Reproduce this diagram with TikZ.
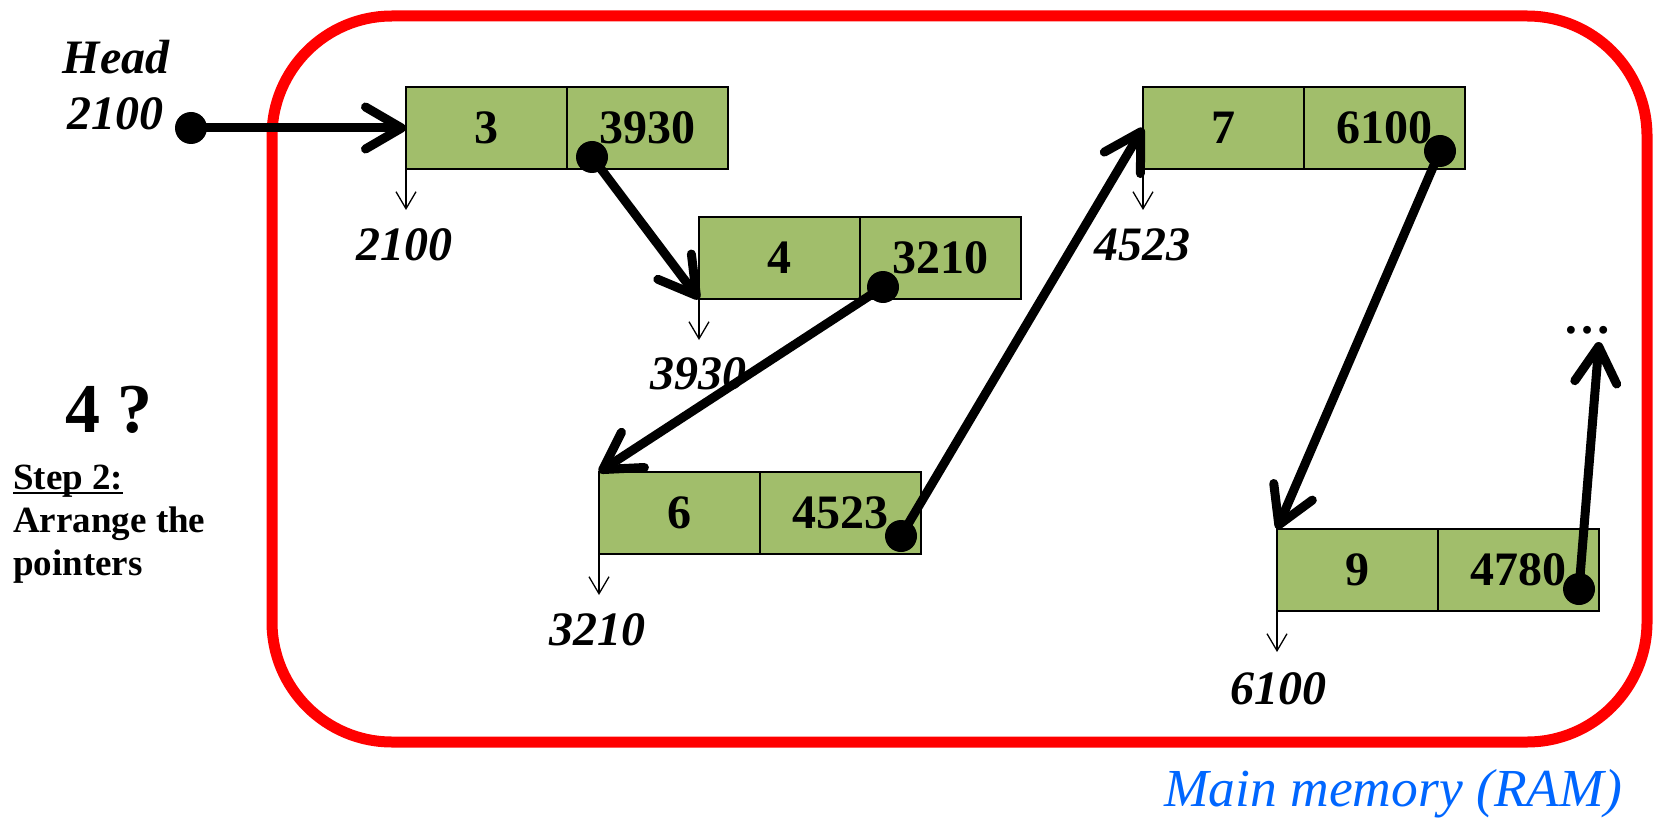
\documentclass[tikz,border=0pt]{standalone}
\usepackage{fontspec}
\setmainfont{Liberation Serif}
\usetikzlibrary{arrows.meta}
\definecolor{cellgreen}{RGB}{161,190,107}
\definecolor{ramblue}{RGB}{0,102,255}
\definecolor{memred}{RGB}{255,0,0}
\begin{document}
\begin{tikzpicture}[x=1pt,y=-1pt,
  cell/.style={draw=black, line width=1.5pt, fill=cellgreen, minimum width=161pt,
    minimum height=82pt, inner sep=0pt, outer sep=0pt,
    font=\fontsize{48}{56}\selectfont\bfseries},
  addr/.style={inner sep=0pt, font=\fontsize{48}{56}\selectfont\bfseries\itshape},
  dot/.style={circle, fill=black, minimum size=32pt, inner sep=0pt},
  link/.style={line width=9pt, line cap=round,
    -{Straight Barb[length=36pt,width=42pt,round]}},
  tick/.style={line width=1.3pt, -{Straight Barb[length=17pt,width=20pt]}},
  side/.style={inner sep=0pt, anchor=base west,
    font=\fontsize{37}{42}\selectfont\bfseries},
]
\useasboundingbox (0,0) rectangle (1653,818);

% main memory outline
\draw[memred, line width=11pt, rounded corners=120pt] (272,16) rectangle (1647,742);

% list cells: value | next address
\node[cell, anchor=north west] (v3) at (406,87) {3};
\node[cell, anchor=west] (p3) at (v3.east) {3930};
\node[cell, anchor=north west] (v4) at (699,217) {4};
\node[cell, anchor=west] (p4) at (v4.east) {3210};
\node[cell, anchor=north west] (v6) at (599,472) {6};
\node[cell, anchor=west] (p6) at (v6.east) {4523};
\node[cell, anchor=north west] (v7) at (1143,87) {7};
\node[cell, anchor=west] (p7) at (v7.east) {6100};
\node[cell, anchor=north west] (v9) at (1277,529) {9};
\node[cell, anchor=west] (p9) at (v9.east) {4780};

% address of each cell
\node[addr] (a3) at (404,245) {2100};
\node[addr] (a4) at (698,374) {3930};
\node[addr] (a6) at (597,630) {3210};
\node[addr] (a7) at (1142,245) {4523};
\node[addr] (a9) at (1278,689) {6100};
\draw[tick] (v3.south west) -- ++(0,41);
\draw[tick] (v4.south west) -- ++(0,41);
\draw[tick] (v6.south west) -- ++(0,41);
\draw[tick] (v7.south west) -- ++(0,41);
\draw[tick] (v9.south west) -- ++(0,41);

% head pointer
\node[addr] (head) at (116,57) {Head};
\node[addr] (hv) at (115,114) {2100};

% continuation
\node[inner sep=0pt, anchor=base, font=\fontsize{48}{56}\selectfont\bfseries] (ell) at (1587,333) {…};
\coordinate (more) at (1599,342);

% pointer origins
\node[dot] (h) at (191,128) {};
\node[dot] (d3) at (592,157) {};
\node[dot] (d4) at (883,287) {};
\node[dot] (d6) at (901,536) {};
\node[dot] (d7) at (1440,151) {};
\node[dot] (d9) at (1579,589) {};

% pointers
\draw[link] (h.center) -- (v3.west);
\draw[link] (d3.center) -- (v4.south west);
\draw[link] (d4.center) -- (v6.north west);
\draw[link] (d6.center) -- (v7.west);
\draw[link] (d7.center) -- (v9.north west);
\draw[link] (d9.center) -- (more);

% side notes
\node[inner sep=0pt, font=\fontsize{70}{80}\selectfont\bfseries] (q) at (109,410) {4 ?};
\node[side] (s1) at (13,489) {Step 2:};
\draw[line width=2.5pt] ([yshift=-4pt]s1.base west) -- ([yshift=-4pt]s1.base east);
\node[side] (s2) at (13,532) {Arrange the};
\node[side] (s3) at (13,575) {pointers};

% caption
\node[inner sep=0pt, anchor=base, text=ramblue, font=\fontsize{53.5}{60}\selectfont\itshape]
  (ram) at (1393,806) {Main memory (RAM)};
\end{tikzpicture}
\end{document}
